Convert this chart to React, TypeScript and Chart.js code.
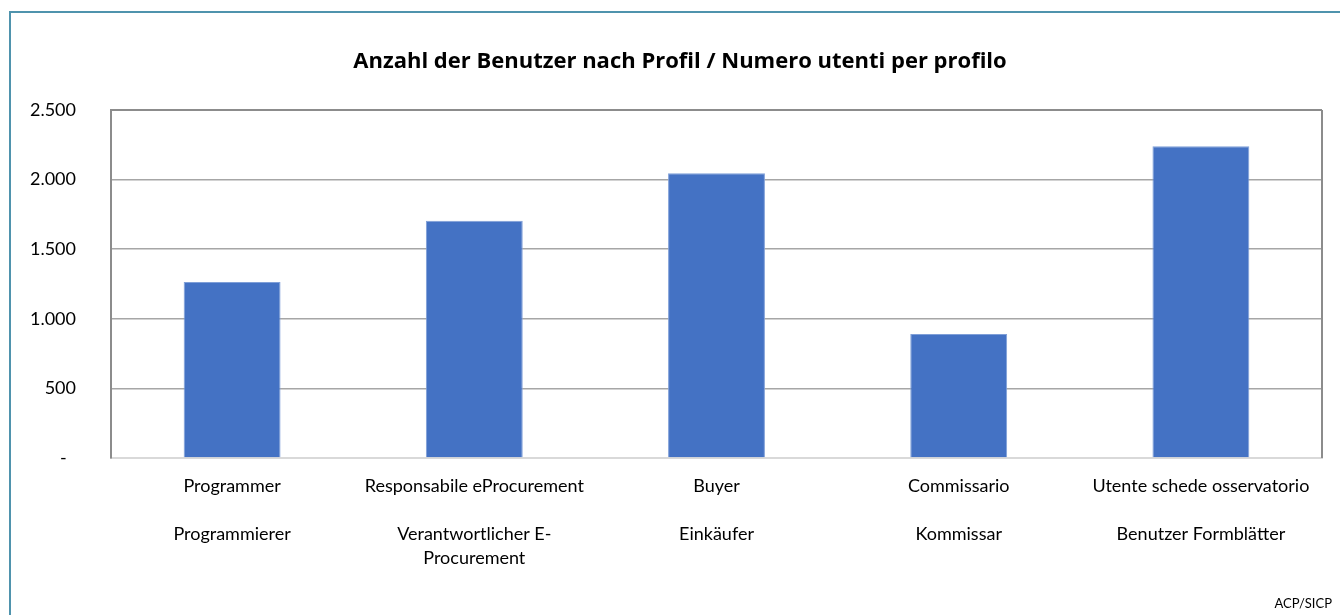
import React, { useEffect, useRef } from "react";
import { Chart, registerables } from "chart.js";

Chart.register(...registerables);

const profilesIt = [
  "Programmer",
  "Responsabile eProcurement",
  "Buyer",
  "Commissario",
  "Utente schede osservatorio",
];
const profilesDe = [
  ["Programmierer"],
  ["Verantwortlicher E-", "Procurement"],
  ["Einkäufer"],
  ["Kommissar"],
  ["Benutzer Formblätter"],
];
const userCounts = [1265, 1705, 2045, 890, 2240];
const yTicks = [0, 500, 1000, 1500, 2000, 2500];

const titleText = "Anzahl der Benutzer nach Profil / Numero utenti per profilo";
const sourceText = "ACP/SICP";

const FONT = "Lato, 'Open Sans', 'Liberation Sans', sans-serif";
const TITLE_FONT = "'Open Sans', Lato, 'Liberation Sans', sans-serif";

function fmt(v: number): string {
  if (v === 0) return "-  ";
  const s = String(Math.round(v));
  return s.replace(/\B(?=(\d{3})+(?!\d))/g, ".");
}

const frameBorderPlugin = {
  id: "frameBorder",
  beforeDatasetsDraw(chart: any) {
    const { ctx, chartArea } = chart;
    ctx.save();
    ctx.strokeStyle = "#8c8c8c";
    ctx.lineWidth = 2;
    ctx.beginPath();
    ctx.moveTo(chartArea.left, chartArea.top);
    ctx.lineTo(chartArea.right, chartArea.top);
    ctx.moveTo(chartArea.right, chartArea.top);
    ctx.lineTo(chartArea.right, chartArea.bottom);
    ctx.stroke();
    ctx.restore();
  },
};

export default function App() {
  const ref = useRef<HTMLCanvasElement | null>(null);

  useEffect(() => {
    if (!ref.current) return;
    const labels = profilesIt.map((it, i) => [it, "", ...profilesDe[i]]);
    const chart = new Chart(ref.current, {
      type: "bar",
      data: {
        labels,
        datasets: [
          {
            data: userCounts,
            backgroundColor: "#4472C4",
            borderColor: "#7f9fd8",
            borderWidth: 1,
            barPercentage: 0.4,
            categoryPercentage: 1,
          },
        ],
      },
      plugins: [frameBorderPlugin],
      options: {
        responsive: false,
        animation: false,
        devicePixelRatio: 1,
        layout: { padding: { left: 9, right: 0, top: 0, bottom: 0 } },
        plugins: {
          legend: { display: false },
          tooltip: { enabled: false },
          title: {
            display: true,
            text: titleText,
            color: "#000000",
            font: { family: TITLE_FONT, size: 22, weight: "bold", lineHeight: 1.2 },
            padding: { top: 49, bottom: 34.6 },
          },
        },
        scales: {
          x: {
            grid: { display: false, drawTicks: false },
            border: { display: true, color: "#d9d9d9", width: 2 },
            ticks: {
              color: "#000000",
              font: { family: FONT, size: 18, lineHeight: 1.333 },
              padding: 16,
              maxRotation: 0,
              autoSkip: false,
            },
            afterFit: (s: any) => {
              s.height = 157;
            },
          },
          y: {
            min: 0,
            max: 2500,
            afterBuildTicks: (s: any) => {
              s.ticks = yTicks.map((v) => ({ value: v }));
            },
            grid: {
              color: "#a6a6a6",
              lineWidth: 1.5,
              drawTicks: false,
            },
            border: { display: true, color: "#8c8c8c", width: 2 },
            ticks: {
              color: "#000000",
              font: { family: FONT, size: 18 },
              padding: 35,
              callback: (v: any) => fmt(Number(v)),
            },
            afterFit: (s: any) => {
              s.width = 102;
            },
          },
          yRight: {
            position: "right",
            display: true,
            grid: { display: false, drawTicks: false },
            border: { display: false },
            ticks: { display: false },
            afterFit: (s: any) => {
              s.width = 29;
            },
          },
        },
      },
    } as any);
    return () => chart.destroy();
  }, []);

  return (
    <div
      style={{
        position: "fixed",
        left: 0,
        top: 0,
        width: 1340,
        height: 615,
        overflow: "hidden",
        background: "#ffffff",
      }}
    >
      <canvas
        ref={ref}
        width={1351}
        height={615}
        style={{ position: "absolute", left: 0, top: 0, width: 1351, height: 615 }}
      />
      <div
        style={{
          position: "absolute",
          left: 9,
          top: 11,
          width: 2000,
          height: 2000,
          borderLeft: "2px solid #4f93ad",
          borderTop: "2px solid #4f93ad",
          pointerEvents: "none",
        }}
      />
      <div
        style={{
          position: "absolute",
          right: 8,
          top: 594,
          fontFamily: FONT,
          fontSize: 13,
          color: "#000000",
          lineHeight: "18px",
        }}
      >
        {sourceText}
      </div>
    </div>
  );
}
